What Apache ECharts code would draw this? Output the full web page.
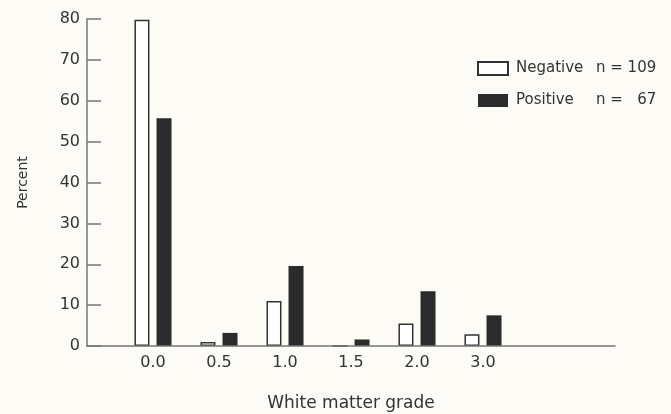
<!DOCTYPE html>
<html>
<head>
<meta charset="utf-8">
<script src="https://cdn.jsdelivr.net/npm/echarts@6/dist/echarts.min.js"></script>
<style>
  html, body { margin: 0; padding: 0; background: #fcfbf5; }
  #main { width: 671px; height: 414px; }
</style>
</head>
<body>
<div id="main"></div>
<script>
// white matter grade categories
const grades = ['0.0', '0.5', '1.0', '1.5', '2.0', '3.0'];
// percent of cases per grade
const negative = [79.8, 1.0, 11.0, 0, 5.5, 2.9];
const positive = [55.7, 3.2, 19.6, 1.6, 13.4, 7.5];
const yTicks = [0, 10, 20, 30, 40, 50, 60, 70, 80];

const font = 'DejaVu Sans';
const ink = '#333';

const chart = echarts.init(document.getElementById('main'));
chart.setOption({
  backgroundColor: '#fcfbf5',
  animation: false,
  textStyle: { fontFamily: font, color: ink },
  grid: [
    { left: 87, right: 56, top: 19, bottom: 68, outerBoundsMode: 'none' },
    { left: 120, width: 396, top: 19, bottom: 68, outerBoundsMode: 'none' }
  ],
  legend: {
    orient: 'vertical',
    left: 472,
    top: 56,
    itemWidth: 30,
    itemHeight: 13,
    itemGap: 17,
    icon: 'rect',
    data: ['Negative', 'Positive'],
    formatter: function (name) {
      return name === 'Negative'
        ? '{a|Negative}{b|n = 109}'
        : '{a|Positive}{b|n =   67}';
    },
    textStyle: {
      fontFamily: font,
      color: ink,
      rich: {
        a: { fontSize: 15, width: 80, padding: [0, 0, 0, 3], color: ink },
        b: { fontSize: 15, color: ink }
      }
    }
  },
  xAxis: [
    {
      gridIndex: 0,
      type: 'value',
      min: 0,
      max: 1,
      z: 5,
      axisLine: { show: true, lineStyle: { color: '#777', width: 1.5 } },
      axisTick: { show: false },
      axisLabel: { show: false },
      splitLine: { show: false },
      name: 'White matter grade',
      nameLocation: 'middle',
      nameGap: 49,
      nameTextStyle: { fontFamily: font, fontSize: 17, color: ink }
    },
    {
      gridIndex: 1,
      type: 'category',
      data: grades,
      axisLine: { show: false },
      axisTick: { show: false },
      axisLabel: { fontSize: 16, color: ink, margin: 9, fontFamily: font }
    }
  ],
  yAxis: [
    {
      gridIndex: 0,
      type: 'value',
      min: 0,
      max: 80,
      interval: 10,
      axisLine: { show: true, lineStyle: { color: '#777', width: 1.5 } },
      axisTick: { show: true, inside: true, length: 14, lineStyle: { color: '#777', width: 1.5 } },
      axisLabel: {
        fontSize: 16, color: ink, margin: 7, fontFamily: font,
        formatter: function (v) { return yTicks.indexOf(v) >= 0 ? String(v) : ''; }
      },
      splitLine: { show: false },
      name: 'Percent',
      nameLocation: 'middle',
      nameGap: 57,
      nameTextStyle: { fontFamily: font, fontSize: 14, color: ink }
    },
    {
      gridIndex: 1,
      type: 'value',
      min: 0,
      max: 80,
      show: false
    }
  ],
  series: [
    {
      name: 'Negative',
      type: 'bar',
      xAxisIndex: 1,
      yAxisIndex: 1,
      data: negative,
      barWidth: 15,
      barGap: '47%',
      itemStyle: { color: '#ffffff', borderColor: '#333', borderWidth: 1.5 }
    },
    {
      name: 'Positive',
      type: 'bar',
      xAxisIndex: 1,
      yAxisIndex: 1,
      data: positive,
      barWidth: 15,
      itemStyle: { color: '#2b2b2b' }
    }
  ]
});
</script>
</body>
</html>
